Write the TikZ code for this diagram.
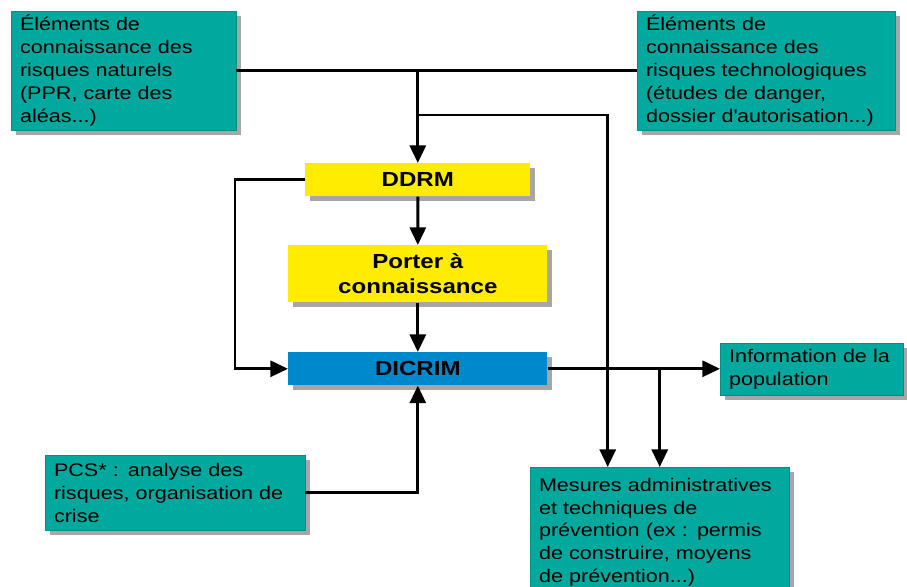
\documentclass[tikz,border=0pt]{standalone}
\usepackage{fontspec}
\setmainfont{Liberation Sans}[FakeStretch=1.18]
\usetikzlibrary{arrows.meta,shadows}
\definecolor{bleuvert}{RGB}{0,168,157}
\definecolor{jaune}{RGB}{255,236,0}
\definecolor{bleu}{RGB}{0,136,204}

\begin{document}
\begin{tikzpicture}[x=0.025cm,y=-0.025cm,
    >={Triangle[length=0.44cm,width=0.4cm]},
    lien/.style={line width=2.1pt},
    ombre/.style={drop shadow={shadow xshift=0.12cm,shadow yshift=-0.12cm,
        fill=black!35,opacity=1}},
    infobox/.style={ombre,fill=bleuvert,draw=bleuvert!85!black,line width=0.3pt,
        anchor=north west,align=left,inner xsep=0.22cm,inner ysep=0.05cm,
        font=\fontsize{13}{16.3}\selectfont},
    etape/.style={ombre,draw=none,anchor=north west,align=center,inner sep=0pt,
        font=\fontsize{14.5}{17.7}\selectfont\bfseries}]
    \useasboundingbox (0,0) rectangle (907,586);
    \clip (0,0) rectangle (907,586);

    \node[infobox,text width=5.185cm,minimum height=2.975cm] (nat) at (11,11)
        {Éléments de\\connaissance des\\risques naturels\\(PPR, carte des\\aléas...)};
    \node[infobox,text width=6.01cm,minimum height=2.975cm] (tech) at (637,11)
        {Éléments de\\connaissance des\\risques technologiques\\(études de danger,\\dossier d\textquotesingle autorisation...)};

    \node[etape,fill=jaune,minimum width=5.625cm,minimum height=0.825cm] (ddrm) at (305,163) {DDRM};
    \node[etape,fill=jaune,minimum width=6.475cm,minimum height=1.425cm] (porter) at (288,245)
        {Porter à\\connaissance};
    \node[etape,fill=bleu,minimum width=6.475cm,minimum height=0.825cm] (dicrim) at (288,352) {DICRIM};

    \node[infobox,text width=6.06cm,minimum height=1.875cm] (pcs) at (45,455)
        {PCS* : analyse des\\risques, organisation de\\crise};
    \node[infobox,text width=4.135cm,minimum height=1.3cm] (pop) at (720,343)
        {Information de la\\population};
    \node[infobox,text width=6.035cm,minimum height=3.25cm] (mes) at (530,467)
        {Mesures administratives\\et techniques de\\prévention (ex : permis\\de construire, moyens\\de prévention...)};

    \coordinate (j1) at (ddrm.north |- nat.east);
    \path (ddrm.north) ++(0,-48) coordinate (j2);
    \draw[lien] (nat.east) -- (tech.west);
    \draw[lien,->] (j1) -- (ddrm.north);
    \draw[lien,->] (j2) -| ([xshift=-1.3cm]mes.north);
    \draw[lien,->] (ddrm.south) -- (porter.north);
    \draw[lien,->] (porter.south) -- (dicrim.north);
    \draw[lien,->] (ddrm.west) -- ++(-70,0) |- (dicrim.west);
    \draw[lien,->] (pcs.east) -| (dicrim.south);
    \draw[lien,->] (dicrim.east) -- (dicrim.east -| pop.west);
    \draw[lien,->] (mes.north |- dicrim.east) -- (mes.north);
\end{tikzpicture}
\end{document}
